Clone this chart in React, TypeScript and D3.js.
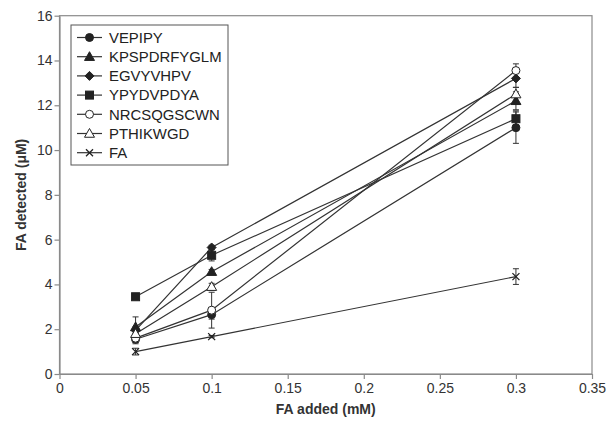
import React, { useEffect, useRef } from "react";
import * as d3 from "d3";

const xValues = [0.05, 0.1, 0.3];
const seriesNames = ["VEPIPY", "KPSPDRFYGLM", "EGVYVHPV", "YPYDVPDYA", "NRCSQGSCWN", "PTHIKWGD", "FA"];
const seriesMarkers = ["circle", "triangle", "diamond", "square", "circleOpen", "triangleOpen", "cross"];
const vepipy = [1.55, 2.65, 11.0];
const kpspdrfyglm = [2.1, 4.57, 12.2];
const egvyvhpv = [1.95, 5.65, 13.2];
const ypydvpdya = [3.45, 5.3, 11.4];
const nrcsqgscwn = [1.6, 2.85, 13.55];
const pthikwgd = [1.8, 3.9, 12.5];
const fa = [1.0, 1.67, 4.35];
const vepipyErr = [0.2, 0.2, 0.7];
const kpspdrfyglmErr = [0.45, 0.1, 0.4];
const egvyvhpvErr = [0.15, 0.1, 0.4];
const ypydvpdyaErr = [0.12, 0.25, 0.35];
const nrcsqgscwnErr = [0.2, 0.8, 0.3];
const pthikwgdErr = [0.2, 0.15, 0.3];
const faErr = [0.15, 0.05, 0.35];
const xTicks = [0, 0.05, 0.1, 0.15, 0.2, 0.25, 0.3, 0.35];
const yTicks = [0, 2, 4, 6, 8, 10, 12, 14, 16];

const allValues = [vepipy, kpspdrfyglm, egvyvhpv, ypydvpdya, nrcsqgscwn, pthikwgd, fa];
const allErrs = [vepipyErr, kpspdrfyglmErr, egvyvhpvErr, ypydvpdyaErr, nrcsqgscwnErr, pthikwgdErr, faErr];

const W = 608, H = 421;
const FONT = "Liberation Sans, Arial, sans-serif";

function drawMarker(g: any, type: string, cx: number, cy: number) {
  const c = "#222";
  if (type === "circle" || type === "circleOpen") {
    g.append("circle").attr("cx", cx).attr("cy", cy).attr("r", 4)
      .attr("fill", type === "circle" ? c : "#fff").attr("stroke", c).attr("stroke-width", 1);
  } else if (type === "triangle" || type === "triangleOpen") {
    const s = 5;
    g.append("path").attr("d", `M${cx},${cy - s}L${cx + s},${cy + s * 0.75}L${cx - s},${cy + s * 0.75}Z`)
      .attr("fill", type === "triangle" ? c : "#fff").attr("stroke", c).attr("stroke-width", 1);
  } else if (type === "diamond") {
    const s = 4.5;
    g.append("path").attr("d", `M${cx},${cy - s}L${cx + s},${cy}L${cx},${cy + s}L${cx - s},${cy}Z`)
      .attr("fill", c).attr("stroke", c);
  } else if (type === "square") {
    const s = 4;
    g.append("rect").attr("x", cx - s).attr("y", cy - s).attr("width", 2 * s).attr("height", 2 * s)
      .attr("fill", c).attr("stroke", c);
  } else if (type === "cross") {
    const s = 3.5;
    g.append("path").attr("d", `M${cx - s},${cy - s}L${cx + s},${cy + s}M${cx - s},${cy + s}L${cx + s},${cy - s}`)
      .attr("stroke", c).attr("stroke-width", 1.3).attr("fill", "none");
  }
}

export default function App() {
  const ref = useRef<SVGSVGElement>(null);
  useEffect(() => {
    const svg = d3.select(ref.current);
    svg.selectAll("*").remove();
    const x = d3.scaleLinear().domain([0, 0.35]).range([59.5, 592]);
    const y = d3.scaleLinear().domain([0, 16]).range([374, 15.7]);

    // frame
    svg.append("rect").attr("x", x(0)).attr("y", y(16)).attr("width", x(0.35) - x(0)).attr("height", y(0) - y(16))
      .attr("fill", "none").attr("stroke", "#8a8a8a").attr("stroke-width", 1.2);

    const xAxis = svg.append("g").attr("transform", `translate(0,${y(0)})`)
      .call(d3.axisBottom(x).tickValues(xTicks).tickSize(5).tickSizeOuter(0).tickFormat((d: any) => String(d)));
    const yAxis = svg.append("g").attr("transform", `translate(${x(0)},0)`)
      .call(d3.axisLeft(y).tickValues(yTicks).tickSize(5).tickSizeOuter(0).tickFormat((d: any) => String(d)));
    [xAxis, yAxis].forEach((a) => {
      a.select(".domain").attr("stroke", "#8a8a8a").attr("stroke-width", 1.2);
      a.selectAll(".tick line").attr("stroke", "#8a8a8a").attr("stroke-width", 1.2);
      a.selectAll(".tick text").attr("font-family", FONT).attr("font-size", 14).attr("fill", "#333");
    });
    xAxis.selectAll(".tick text").attr("dy", "0.95em").attr("y", 6);
    yAxis.selectAll(".tick text").attr("x", -7);

    svg.append("text").attr("x", (x(0) + x(0.35)) / 2).attr("y", 414).attr("text-anchor", "middle")
      .attr("font-family", FONT).attr("font-size", 14).attr("font-weight", "bold").attr("fill", "#333")
      .text("FA added (mM)");
    svg.append("text").attr("transform", `translate(26,${(y(0) + y(16)) / 2}) rotate(-90)`).attr("text-anchor", "middle")
      .attr("font-family", FONT).attr("font-size", 14).attr("font-weight", "bold").attr("fill", "#333")
      .text("FA detected (\u03bcM)");

    const line = d3.line<number>().x((_d, i) => x(xValues[i])).y((d) => y(d));
    const plot = svg.append("g");
    allValues.forEach((vals) => {
      plot.append("path").attr("d", line(vals) as string).attr("fill", "none").attr("stroke", "#333").attr("stroke-width", 1.2);
    });
    allValues.forEach((vals, si) => {
      vals.forEach((v, i) => {
        const e = allErrs[si][i];
        const cx = x(xValues[i]);
        const y1 = y(v + e), y2 = y(v - e);
        plot.append("path").attr("d", `M${cx},${y1}V${y2}M${cx - 3},${y1}H${cx + 3}M${cx - 3},${y2}H${cx + 3}`)
          .attr("stroke", "#333").attr("stroke-width", 1).attr("fill", "none");
      });
    });
    allValues.forEach((vals, si) => {
      vals.forEach((v, i) => drawMarker(plot, seriesMarkers[si], x(xValues[i]), y(v)));
    });

    // legend
    const lg = svg.append("g");
    lg.append("rect").attr("x", 71).attr("y", 25).attr("width", 157).attr("height", 140)
      .attr("fill", "#fff").attr("stroke", "#555").attr("stroke-width", 1);
    seriesNames.forEach((name, i) => {
      const ly = 37.5 + i * 19.2;
      lg.append("line").attr("x1", 77).attr("x2", 102).attr("y1", ly).attr("y2", ly).attr("stroke", "#333").attr("stroke-width", 1.2);
      drawMarker(lg, seriesMarkers[i], 89.5, ly);
      lg.append("text").attr("x", 109).attr("y", ly).attr("dy", "0.36em").attr("font-family", FONT)
        .attr("font-size", 14.9).attr("fill", "#222").text(name);
    });
  }, []);
  return <svg ref={ref} width={W} height={H} style={{ position: "absolute", left: 0, top: 0, background: "#fff" }} />;
}
